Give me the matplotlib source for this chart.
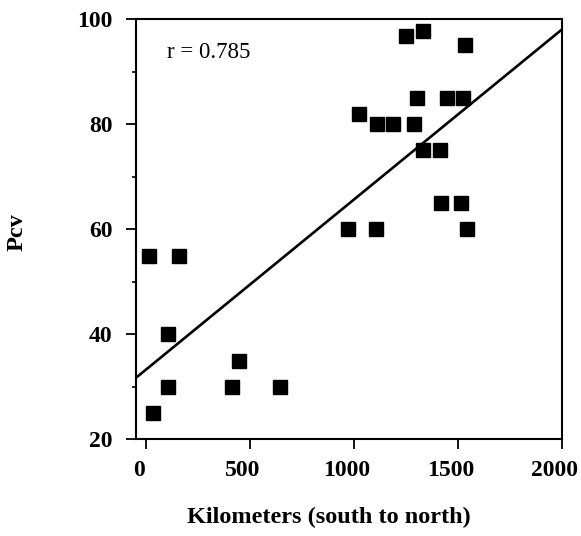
import matplotlib
matplotlib.use("Agg")
import matplotlib.pyplot as plt
import matplotlib.transforms as mtransforms
import numpy as np
from matplotlib.ticker import MultipleLocator

plt.rcParams['font.family'] = ['Liberation Serif', 'DejaVu Serif']

# Data
km = [15, 160, 107, 446, 107, 414, 643, 34,
      1025, 1110, 1190, 1291, 1335, 1415, 1421, 1514, 972, 1105, 1543,
      1251, 1332, 1535, 1303, 1447, 1527]
pcv = [55, 55, 40, 35, 30, 30, 30, 25,
       82, 80, 80, 80, 75, 75, 65, 65, 60, 60, 60,
       96.7, 97.8, 95, 85, 85, 85]

fit_intercept = 33.3
fit_slope = 0.03234
fit_x = [-50, 2000]

x_ticks = [0, 500, 1000, 1500, 2000]
y_ticks = [20, 40, 60, 80, 100]
r_text = "r = 0.785"

fig = plt.figure(figsize=(5.81, 5.36), dpi=100)
ax = fig.add_axes([0.2334, 0.18004, 0.7334, 0.7845])

fx = np.array(fit_x, dtype=float)
ax.plot(fx, fit_intercept + fit_slope * fx, color='black', lw=1.9, zorder=2)
ax.plot(km, pcv, linestyle='none', marker='s', markersize=10.6,
        color='black', zorder=3)

ax.set_xlim(-50, 2000)
ax.set_ylim(20, 100)
ax.set_xticks(x_ticks)
ax.set_yticks(y_ticks)
ax.yaxis.set_minor_locator(MultipleLocator(10))

for s in ax.spines.values():
    s.set_linewidth(1.5)

ax.tick_params(axis='both', which='major', direction='out', length=7.5,
               width=1.3, labelsize=17, pad=7)
ax.tick_params(axis='y', which='major', pad=9)
ax.tick_params(axis='y', which='minor', direction='out', length=3, width=1.2)
shift = mtransforms.ScaledTranslation(-7 / 100, 0, fig.dpi_scale_trans)
for lab in ax.get_xticklabels():
    lab.set_fontweight('bold')
    lab.set_transform(lab.get_transform() + shift)
for lab in ax.get_yticklabels():
    lab.set_fontweight('bold')

ax.set_xlabel("Kilometers (south to north)", fontsize=17.5, fontweight='bold')
ax.xaxis.set_label_coords(0.4539, -0.16)
ax.set_ylabel("Pcv", fontsize=17.5, fontweight='bold')
ax.yaxis.set_label_coords(-0.254, 0.493)

ax.text(166.7 / 581, 1 - 58 / 536, r_text, transform=fig.transFigure,
        fontsize=16.5, ha='left', va='baseline')

fig.savefig("out.png", dpi=100)
